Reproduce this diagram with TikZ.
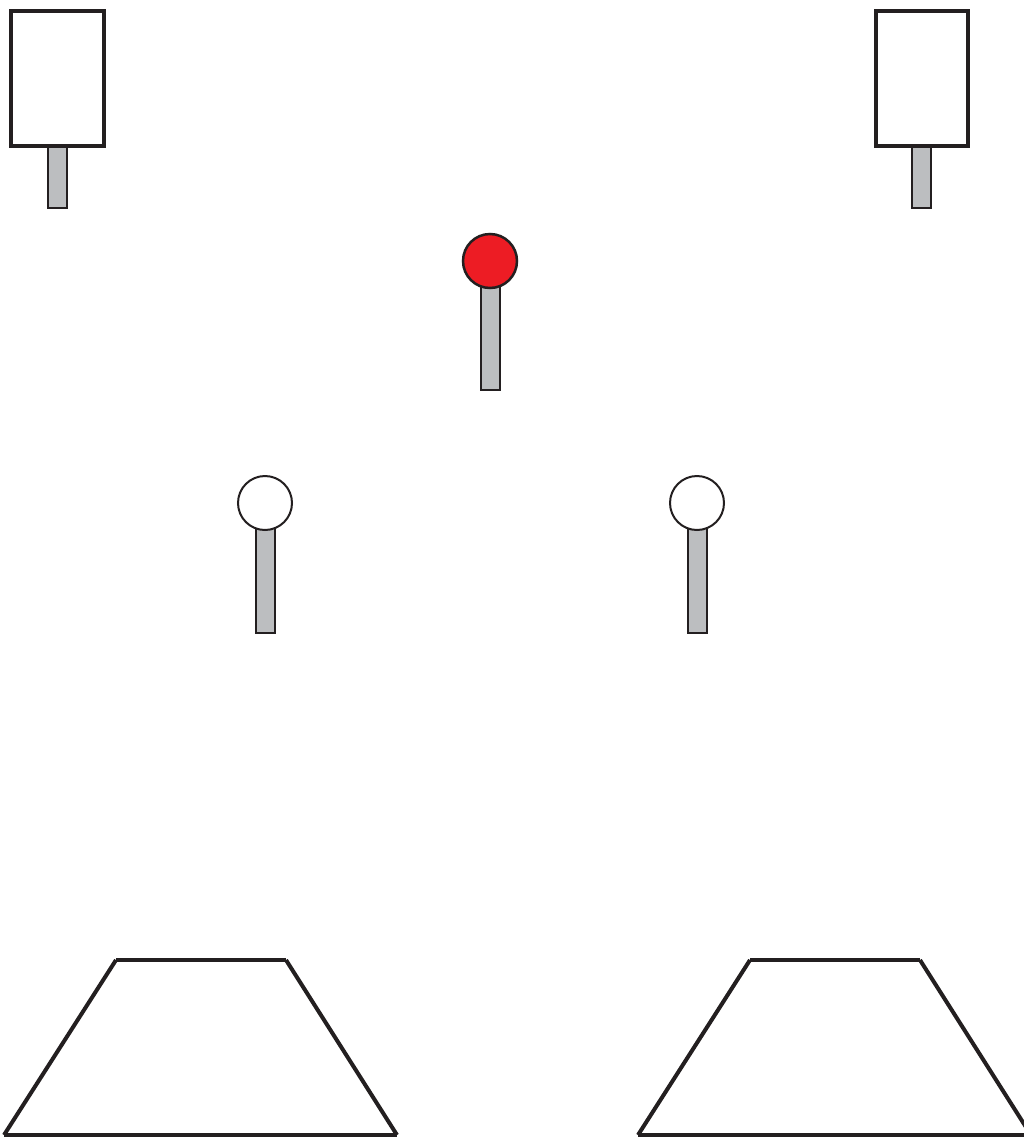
\documentclass[tikz,border=0pt]{standalone}
\definecolor{stemgray}{HTML}{BCBEC0}
\definecolor{ballred}{HTML}{ED1C24}
\definecolor{ink}{HTML}{231F20}
\begin{document}
\begin{tikzpicture}[x=1pt,y=-1pt,
  boxst/.style={draw=ink,line width=4pt,fill=white},
  stemst/.style={draw=ink,line width=2pt,fill=stemgray},
  ballst/.style={draw=ink,line width=2.5pt},
  trap/.style={draw=ink,line width=4pt,line cap=butt}]
\useasboundingbox (0,0) rectangle (1024,1138);
% top-left unit
\draw[stemst] (48,146) rectangle (67,208);
\draw[boxst] (11,11) rectangle (104,146);
% top-right unit
\draw[stemst] (912,146) rectangle (931,208);
\draw[boxst] (876,11) rectangle (968,146);
% red ball
\draw[stemst] (481,285) rectangle (500,390);
\draw[ballst,fill=ballred] (490,261) circle (27);
% white balls
\draw[stemst] (256,527) rectangle (275,633);
\draw[ballst,line width=2pt,fill=white] (265,503) circle (27);
\draw[stemst] (688,527) rectangle (707,633);
\draw[ballst,line width=2pt,fill=white] (697,503) circle (27);
% trapezoids
\draw[trap] (4,1135) -- (116,960);
\draw[trap] (116,960) -- (286,960);
\draw[trap] (286,960) -- (397,1135);
\draw[trap] (4,1135) -- (397,1135);
\draw[trap] (638,1135) -- (750,960);
\draw[trap] (750,960) -- (920,960);
\draw[trap] (920,960) -- (1031,1135);
\draw[trap] (638,1135) -- (1031,1135);
\end{tikzpicture}
\end{document}
